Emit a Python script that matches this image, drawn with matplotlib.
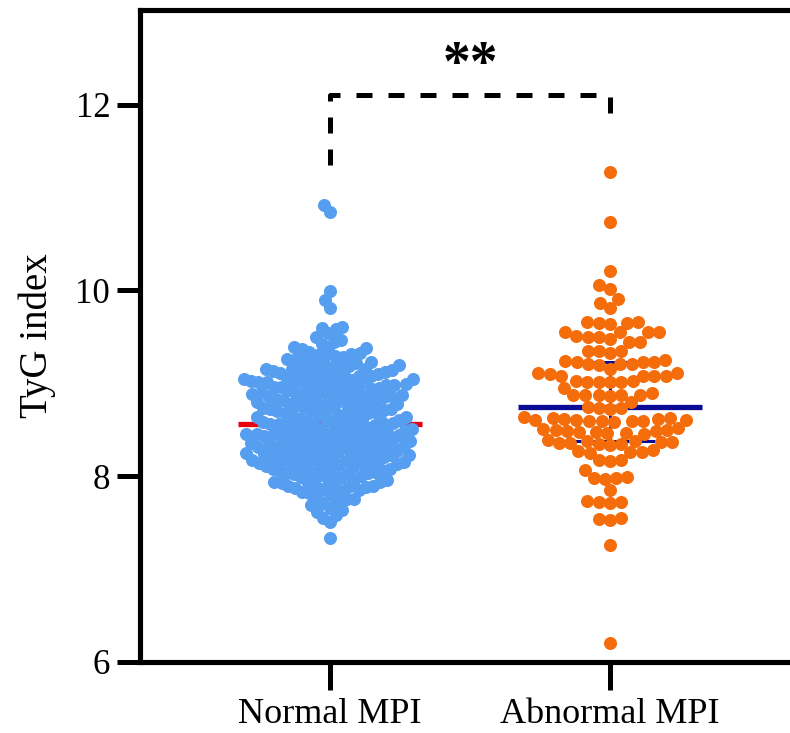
import numpy as np
import matplotlib.pyplot as plt

plt.rcParams["font.family"] = ["Liberation Serif", "DejaVu Serif"]

# values
groups = ["Normal MPI", "Abnormal MPI"]
normal_mpi = [
    10.92, 10.85,
    9.99, 9.90, 9.81,
    9.61, 9.60, 9.54, 9.58,
    9.47, 9.42, 9.45, 9.38, 9.50,
    9.33, 9.36, 9.31, 9.39, 9.34, 9.30, 9.37, 9.32,
    9.21, 9.24, 9.28, 9.22, 9.26, 9.20, 9.25, 9.23, 9.27,
    9.11, 9.14, 9.18, 9.12, 9.16, 9.19, 9.10, 9.15, 9.13, 9.17, 9.12, 9.16, 9.14, 9.18, 9.11,
    9.01, 9.04, 9.08, 9.02, 9.06, 9.09, 9.00, 9.05, 9.03, 9.07, 9.02, 9.06, 9.04, 9.08, 9.01, 9.05, 9.03,
    8.91, 8.94, 8.98, 8.92, 8.96, 8.99, 8.90, 8.95, 8.93, 8.97, 8.92, 8.96, 8.94, 8.98, 8.91, 8.95, 8.97,
    8.81, 8.84, 8.88, 8.82, 8.86, 8.89, 8.80, 8.85, 8.83, 8.87, 8.82, 8.86, 8.84, 8.88, 8.81, 8.85, 8.83,
    8.71, 8.74, 8.78, 8.72, 8.76, 8.79, 8.70, 8.75, 8.73, 8.77, 8.72, 8.76, 8.74, 8.78, 8.71,
    8.61, 8.64, 8.68, 8.62, 8.66, 8.69, 8.60, 8.65, 8.63, 8.67, 8.62, 8.66, 8.64, 8.68, 8.61,
    8.51, 8.54, 8.58, 8.52, 8.56, 8.59, 8.50, 8.55, 8.53, 8.57, 8.52, 8.56, 8.54, 8.58, 8.51, 8.55,
    8.41, 8.44, 8.48, 8.42, 8.46, 8.49, 8.40, 8.45, 8.43, 8.47, 8.42, 8.46, 8.44, 8.48, 8.41, 8.45, 8.49, 8.43,
    8.31, 8.34, 8.38, 8.32, 8.36, 8.39, 8.30, 8.35, 8.33, 8.37, 8.32, 8.36, 8.34, 8.38, 8.31, 8.35, 8.39, 8.33,
    8.21, 8.24, 8.28, 8.22, 8.26, 8.29, 8.20, 8.25, 8.23, 8.27, 8.22, 8.26, 8.24, 8.28, 8.21, 8.25, 8.29, 8.23,
    8.11, 8.14, 8.18, 8.12, 8.16, 8.19, 8.10, 8.15, 8.13, 8.17, 8.12, 8.16, 8.14, 8.18, 8.11, 8.15, 8.19, 8.13,
    8.01, 8.04, 8.08, 8.02, 8.06, 8.09, 8.00, 8.05, 8.03, 8.07, 8.02, 8.06, 8.04, 8.08,
    7.91, 7.94, 7.98, 7.92, 7.96, 7.99, 7.90, 7.95, 7.93, 7.97, 7.94, 7.96,
    7.81, 7.84, 7.88, 7.82, 7.86, 7.89, 7.85, 7.87, 7.83, 7.88,
    7.71, 7.75, 7.78, 7.73, 7.76,
    7.62, 7.66, 7.69, 7.64,
    7.51, 7.55, 7.58,
    7.34,
]
abnormal_mpi = [
    11.28, 10.74, 10.21, 10.06, 10.02, 9.91, 9.87, 9.81,
    9.66, 9.65, 9.64, 9.66, 9.65,
    9.55, 9.55, 9.55, 9.55, 9.51, 9.50,
    9.45, 9.48, 9.50, 9.45,
    9.35, 9.35, 9.35, 9.33,
    9.25, 9.21, 9.21, 9.21, 9.23, 9.23, 9.23, 9.24, 9.20,
    9.16, 9.11, 9.11, 9.08, 9.08, 9.08, 9.08, 9.10,
    9.03, 9.03, 9.02, 9.02, 9.02, 9.01,
    8.95, 8.88, 8.88, 8.88, 8.88, 8.90, 8.87, 8.86, 8.80,
    8.74, 8.73, 8.75, 8.72,
    8.60, 8.61, 8.62, 8.63, 8.59, 8.61, 8.64, 8.58, 8.62, 8.60, 8.63, 8.61, 8.59,
    8.48, 8.47, 8.49, 8.50, 8.46, 8.48, 8.51, 8.47, 8.49, 8.50, 8.52,
    8.36, 8.37, 8.35, 8.38, 8.36, 8.34, 8.37, 8.35, 8.38, 8.39,
    8.26, 8.27, 8.25, 8.26, 8.28,
    8.17, 8.18, 8.16,
    8.07,
    7.98, 7.97, 7.99, 7.98,
    7.85,
    7.72, 7.71, 7.73, 7.72,
    7.54, 7.55, 7.53,
    7.26,
    6.20,
]
yticks = [6, 8, 10, 12]
sig_label = "**"

point_colors = ["#569ef0", "#f56c0a"]
median_colors = ["#e8000e", "#0b0b96"]

# pixel scales of the layout (used to lay out the swarm)
PX_X = 280.0   # px per x unit
PX_Y = 92.83   # px per y unit


def swarm_offsets(vals, d=12.5, limit=86.0):
    y = np.asarray(vals) * PX_Y
    xs = np.zeros(len(y))
    placed = []
    for i in np.argsort(y):
        blocked = []
        for px, py in placed:
            dy = abs(py - y[i])
            if dy < d:
                dx = np.sqrt(d * d - dy * dy)
                blocked.append((px - dx, px + dx))
        cands = [0.0] + [b[0] for b in blocked] + [b[1] for b in blocked]
        cands.sort(key=lambda c: (abs(c), c))
        for c in cands:
            if all(not (lo + 1e-6 < c < hi - 1e-6) for lo, hi in blocked):
                xs[i] = c
                break
        placed.append((xs[i], y[i]))
    m = np.abs(xs).max()
    if m > limit:
        xs *= limit / m
    return xs / PX_X


fig = plt.figure(figsize=(7.9, 7.33), dpi=100)
ax = fig.add_axes([140 / 790, 71 / 733, 660 / 790, 652 / 733])

for i, vals in enumerate([normal_mpi, abnormal_mpi]):
    off = swarm_offsets(vals)
    ax.scatter(i + off, vals, s=88, color=point_colors[i], linewidths=0, zorder=3)
    med = np.median(vals)
    ax.hlines(med, i - 0.33, i + 0.33, color=median_colors[i], lw=3.8, zorder=2)
    if i == 1:
        q1, q3 = np.percentile(vals, [25, 75])
        ax.vlines(i, q1, q3, color=median_colors[i], lw=2.2, zorder=2)
        ax.hlines([q1, q3], i - 0.16, i + 0.16, color=median_colors[i], lw=2.2, zorder=2)

# significance bracket
ax.plot([0, 0, 1, 1], [11.35, 12.11, 12.11, 11.89], color="black", lw=3.6,
        linestyle=(0, (3.2, 3.2)), dash_capstyle="butt", zorder=4)
ax.text(0.5, 12.42, sig_label, ha="center", va="center", fontsize=40,
        fontweight="bold", zorder=5)

ax.set_xlim(-0.6786, 1.6786)
ax.set_ylim(6, 13.02)
ax.set_xticks([0, 1])
ax.set_xticklabels(groups, fontsize=26)
ax.set_yticks(yticks)
ax.set_yticklabels([str(t) for t in yticks], fontsize=25)
ax.set_ylabel("TyG index", fontsize=28, labelpad=14)

for sp in ax.spines.values():
    sp.set_linewidth(3.7)
ax.tick_params(axis="y", length=16.5, width=3.6, pad=5)
ax.tick_params(axis="x", length=20, width=3.6, pad=6)

fig.savefig("out.png", dpi=100)
